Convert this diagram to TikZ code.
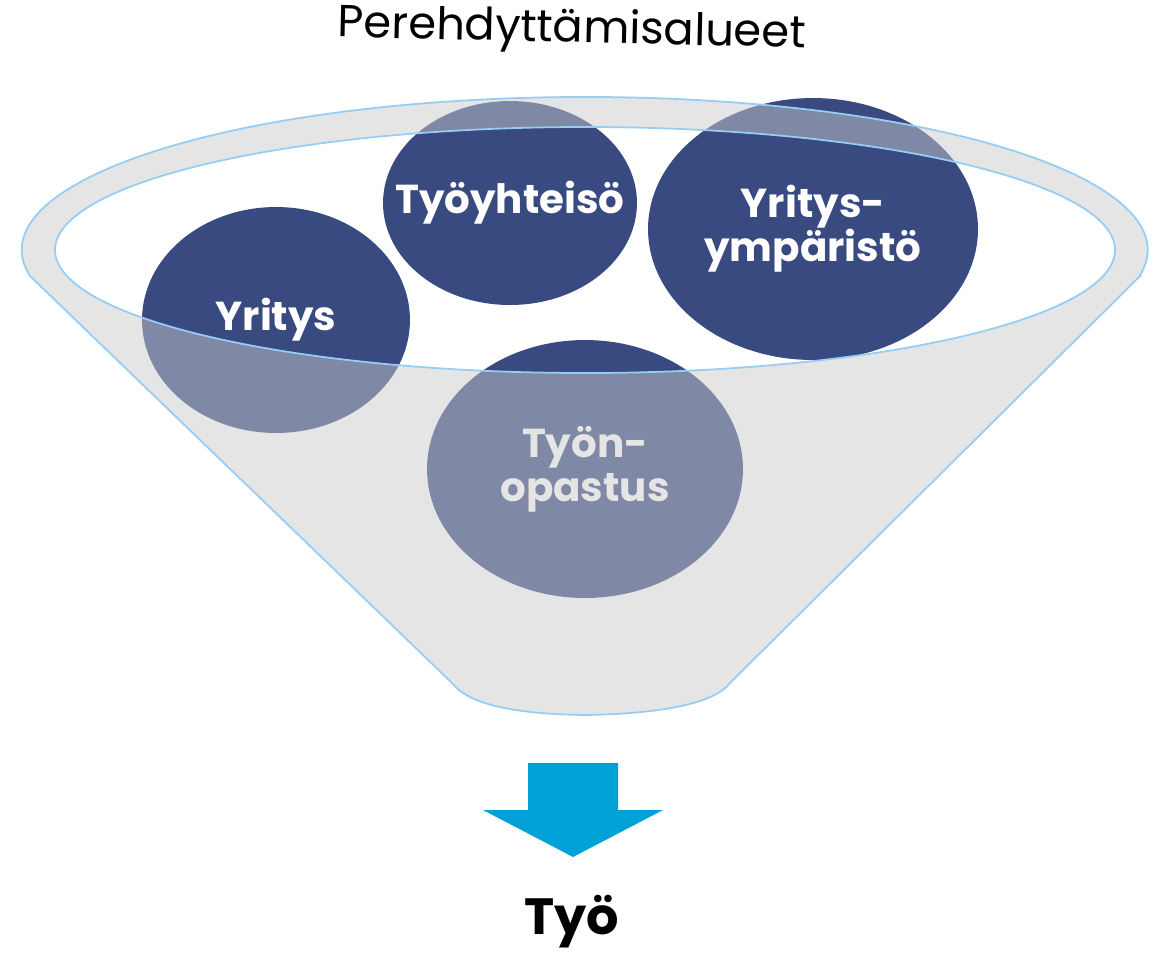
\documentclass[tikz,border=0pt]{standalone}
\usepackage{fontspec}
\setmainfont{Poppins}
\usetikzlibrary{shapes.geometric, positioning}
\definecolor{navy}{RGB}{57,74,128}
\definecolor{funnelgray}{RGB}{203,203,203}
\definecolor{rimblue}{RGB}{150,205,245}
\definecolor{arrowblue}{RGB}{0,161,214}
\tikzset{%
  % dark area inside the funnel
  area/.style={ellipse, fill=navy, inner sep=0pt},
  areatext/.style={text=white, font=\bfseries\fontsize{23}{25}\selectfont, align=center},
  % half transparent front of the funnel, the opening is left out
  funnel/.style={fill=funnelgray, fill opacity=0.485, even odd rule},
  rimline/.style={draw=rimblue, line width=1pt},
}

\begin{document}
\begin{tikzpicture}[x=0.02cm, y=-0.02cm]
  \useasboundingbox (0,0) rectangle (1165,954);
  \fill[white] (0,0) rectangle (1165,954);

  \node[font=\fontsize{25.5}{28}\selectfont, rotate=-1.3] (title) at (572,31) {Perehdyttämisalueet};

  % areas
  \node[area, minimum width=5.36cm, minimum height=4.52cm] (yritys) at (276,320) {};
  \node[areatext] (yritystxt) at (yritys) {Yritys};
  \node[area, minimum width=5.08cm, minimum height=4.08cm] (yhteiso) at (510,203) {};
  \node[areatext] (yhteisotxt) at (yhteiso) {Työyhteisö};
  \node[area, minimum width=6.6cm, minimum height=5.24cm] (ymparisto) at (813,229) {};
  \node[areatext] (ymparistotxt) at (ymparisto) {Yritys-\\ympäristö};
  \node[area, minimum width=6.32cm, minimum height=5.16cm] (opastus) at (585,469) {};
  \node[areatext] (opastustxt) at (opastus) {Työn-\\opastus};

  % funnel
  \path[funnel] (1140,276) -- (730,683)
    .. controls (712,706) and (650,714) .. (585,715)
    .. controls (520,714) and (470,706) .. (452,683) -- (30,276)
    arc[start angle=170.2, end angle=369.8, x radius=563, y radius=153] -- cycle
    (585,250) ellipse [x radius=530, y radius=123];
  \draw[rimline] (1140,276) -- (730,683)
    .. controls (712,706) and (650,714) .. (585,715)
    .. controls (520,714) and (470,706) .. (452,683) -- (30,276)
    arc[start angle=170.2, end angle=369.8, x radius=563, y radius=153] -- cycle;
  \draw[rimline] (585,250) ellipse [x radius=530, y radius=123];

  % arrow
  \fill[arrowblue] (528,763) -- (618,763) -- (618,810) -- (663,810) -- (573,857)
    -- (483,810) -- (528,810) -- cycle;

  \node[font=\bfseries\fontsize{29}{32}\selectfont] (tyo) at (572,922) {Työ};
\end{tikzpicture}
\end{document}
